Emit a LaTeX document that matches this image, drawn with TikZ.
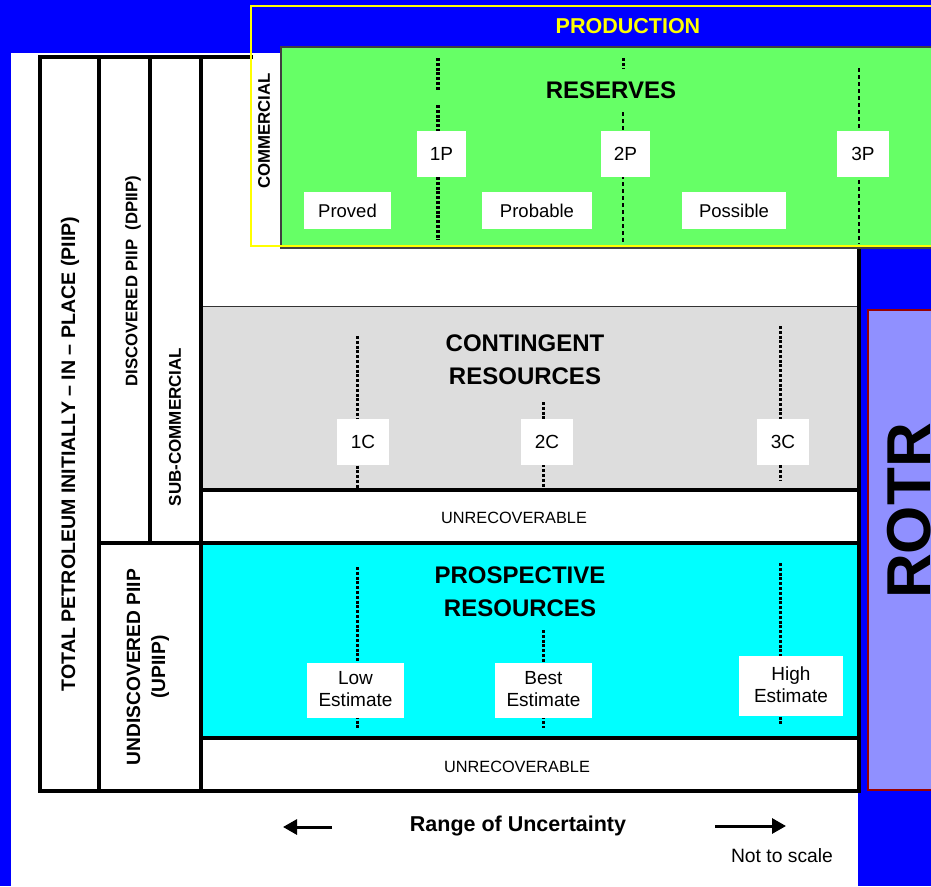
\documentclass[tikz,border=0pt]{standalone}
\usepackage{fontspec}
\setmainfont{Liberation Sans}
\usetikzlibrary{arrows.meta}
\definecolor{bgblue}{HTML}{0000FF}
\definecolor{resgreen}{HTML}{66FF66}
\definecolor{contgrey}{HTML}{DDDDDD}
\definecolor{prospcyan}{HTML}{00FFFF}
\definecolor{rotrfill}{HTML}{9090FF}
\definecolor{rotrborder}{HTML}{990000}
\definecolor{prodyellow}{HTML}{FFFF00}
\tikzset{
  frameline/.style={line width=3.5pt, line cap=rect},
  resdots/.style={line width=3pt, dash pattern=on 3pt off 1.8pt},
  thindots/.style={line width=1.3pt, dash pattern=on 4pt off 3pt},
  middots/.style={line width=2pt, dash pattern=on 4pt off 3pt},
  labelbox/.style={fill=white, inner sep=0pt, align=center, font=\fontsize{19}{22}\selectfont},
  title/.style={font=\bfseries\fontsize{24}{33}\selectfont, align=center, inner sep=0pt},
  sidelabel/.style={rotate=90, font=\bfseries\fontsize{17}{25}\selectfont, align=center, inner sep=0pt},
  unrec/.style={font=\fontsize{16.3}{18}\selectfont, inner sep=0pt},
  uarrow/.style={line width=3pt, -{Triangle[length=14pt,width=15pt]}}
}
\begin{document}
\begin{tikzpicture}[x=1pt,y=-1pt]
\useasboundingbox (0,0) rectangle (931,886);
% background
\fill[bgblue] (0,0) rectangle (931,886);
\fill[white] (11,53) rectangle (858,886);
% coloured bands
\fill[contgrey] (201,306) rectangle (857,490);
\draw[line width=1pt, black!80] (201,306) -- (857,306);
\fill[prospcyan] (201,543) rectangle (859,738);
% frame
\draw[frameline] (40,57) -- (40,791) -- (859,791);
\draw[frameline] (40,57) -- (251,57);
\draw[frameline] (99,57) -- (99,791);
\draw[frameline] (150,57) -- (150,543);
\draw[frameline] (201,57) -- (201,791);
\draw[frameline] (859,248) -- (859,791);
\draw[frameline] (99,543) -- (859,543);
\draw[frameline] (201,490) -- (859,490);
\draw[frameline] (201,738) -- (859,738);
% reserves box and production outline
\draw[fill=resgreen, draw=black!75, line width=1.2pt] (281,47) rectangle (934,248);
\draw[prodyellow, line width=2pt] (251,6) rectangle (934,246);
% ROTR
\draw[fill=rotrfill, draw=rotrborder, line width=1.5pt] (868,310) rectangle (934,790);
\node[rotate=90, font=\bfseries\fontsize{62}{62}\selectfont, inner sep=0pt] (rotr) at (909,511) {ROTR};
% titles
\node[font=\bfseries\fontsize{21.5}{21.5}\selectfont, text=prodyellow, inner sep=0pt] (prod) at (628,26) {PRODUCTION};
\node[title] (res) at (611,90) {RESERVES};
\node[title] (cont) at (525,360) {CONTINGENT\\RESOURCES};
\node[title] (prosp) at (520,592) {PROSPECTIVE\\RESOURCES};
\node[unrec] (unrec1) at (514,518) {UNRECOVERABLE};
\node[unrec] (unrec2) at (517,767) {UNRECOVERABLE};
% side labels
\node[sidelabel, font=\bfseries\fontsize{16.8}{18}\selectfont] (comm) at (264,131) {COMMERCIAL};
\node[sidelabel, font=\bfseries\fontsize{16.7}{18}\selectfont] (dpiip) at (133,281) {DISCOVERED PIIP\ \ (DPIIP)};
\node[sidelabel] (subc) at (175,427) {SUB-COMMERCIAL};
\node[sidelabel, font=\bfseries\fontsize{19.6}{22}\selectfont] (piip) at (70,454) {TOTAL PETROLEUM INITIALLY – IN – PLACE (PIIP)};
\node[sidelabel, font=\bfseries\fontsize{19.2}{25}\selectfont] (upiip) at (148,667) {UNDISCOVERED PIIP\\(UPIIP)};
% reserves dotted lines
\coordinate (p1a) at (438,58); \coordinate (p1b) at (438,90);
\coordinate (p1c) at (438,105); \coordinate (p1d) at (438,240);
\draw[resdots, line width=3.5pt] (p1a) -- (p1b);
\draw[resdots, line width=3.5pt] (p1c) -- (p1d);
\coordinate (p2a) at (623,58); \coordinate (p2b) at (623,68);
\coordinate (p2c) at (623,112); \coordinate (p2d) at (623,244);
\draw[resdots] (p2a) -- (p2b);
\draw[thindots] (p2c) -- (p2d);
\coordinate (p3a) at (859,68); \coordinate (p3b) at (859,244);
\draw[middots] (p3a) -- (p3b);
% contingent dotted lines
\coordinate (c1a) at (357,336); \coordinate (c1b) at (357,489);
\coordinate (c2a) at (543,402); \coordinate (c2b) at (543,489);
\coordinate (c3a) at (780,326); \coordinate (c3b) at (780,481);
\draw[resdots] (c1a) -- (c1b);
\draw[resdots] (c2a) -- (c2b);
\draw[resdots] (c3a) -- (c3b);
% prospective dotted lines
\coordinate (l1a) at (357,567); \coordinate (l1b) at (357,728);
\coordinate (l2a) at (543,630); \coordinate (l2b) at (543,728);
\coordinate (l3a) at (780,563); \coordinate (l3b) at (780,726);
\draw[resdots] (l1a) -- (l1b);
\draw[resdots] (l2a) -- (l2b);
\draw[resdots] (l3a) -- (l3b);
% label boxes
\node[labelbox, minimum width=49pt, minimum height=46pt] (b1p) at (441.5,154) {1P};
\node[labelbox, minimum width=49pt, minimum height=46pt] (b2p) at (625.5,154) {2P};
\node[labelbox, minimum width=52pt, minimum height=46pt] (b3p) at (863,154) {3P};
\node[labelbox, minimum width=87pt, minimum height=37pt, font=\fontsize{18.5}{20}\selectfont] (proved) at (347.5,210.5) {Proved};
\node[labelbox, minimum width=110pt, minimum height=37pt, font=\fontsize{18.5}{20}\selectfont] (probable) at (537,210.5) {Probable};
\node[labelbox, minimum width=104pt, minimum height=37pt, font=\fontsize{18.5}{20}\selectfont] (possible) at (734,210.5) {Possible};
\node[labelbox, minimum width=52pt, minimum height=46pt] (b1c) at (363,442) {1C};
\node[labelbox, minimum width=52pt, minimum height=46pt] (b2c) at (547,442) {2C};
\node[labelbox, minimum width=52pt, minimum height=46pt] (b3c) at (783,442) {3C};
\node[labelbox, minimum width=97pt, minimum height=55pt] (low) at (355.5,690.5) {Low\\Estimate\rule[-3pt]{0pt}{0pt}};
\node[labelbox, minimum width=97pt, minimum height=55pt] (best) at (543.5,690.5) {Best\\Estimate\rule[-3pt]{0pt}{0pt}};
\node[labelbox, minimum width=104pt, minimum height=60pt] (high) at (791,686) {High\\Estimate\rule[-3pt]{0pt}{0pt}};
% range of uncertainty
\node[font=\bfseries\fontsize{21.5}{22}\selectfont, inner sep=0pt] (range) at (518,826) {Range of Uncertainty};
\coordinate (la) at (332,827); \coordinate (lb) at (283,827);
\coordinate (ra) at (715,826); \coordinate (rb) at (786,826);
\draw[uarrow] (la) -- (lb);
\draw[uarrow] (ra) -- (rb);
\node[font=\fontsize{19.3}{20}\selectfont, inner sep=0pt] (nts) at (782,856) {Not to scale};
\end{tikzpicture}
\end{document}
